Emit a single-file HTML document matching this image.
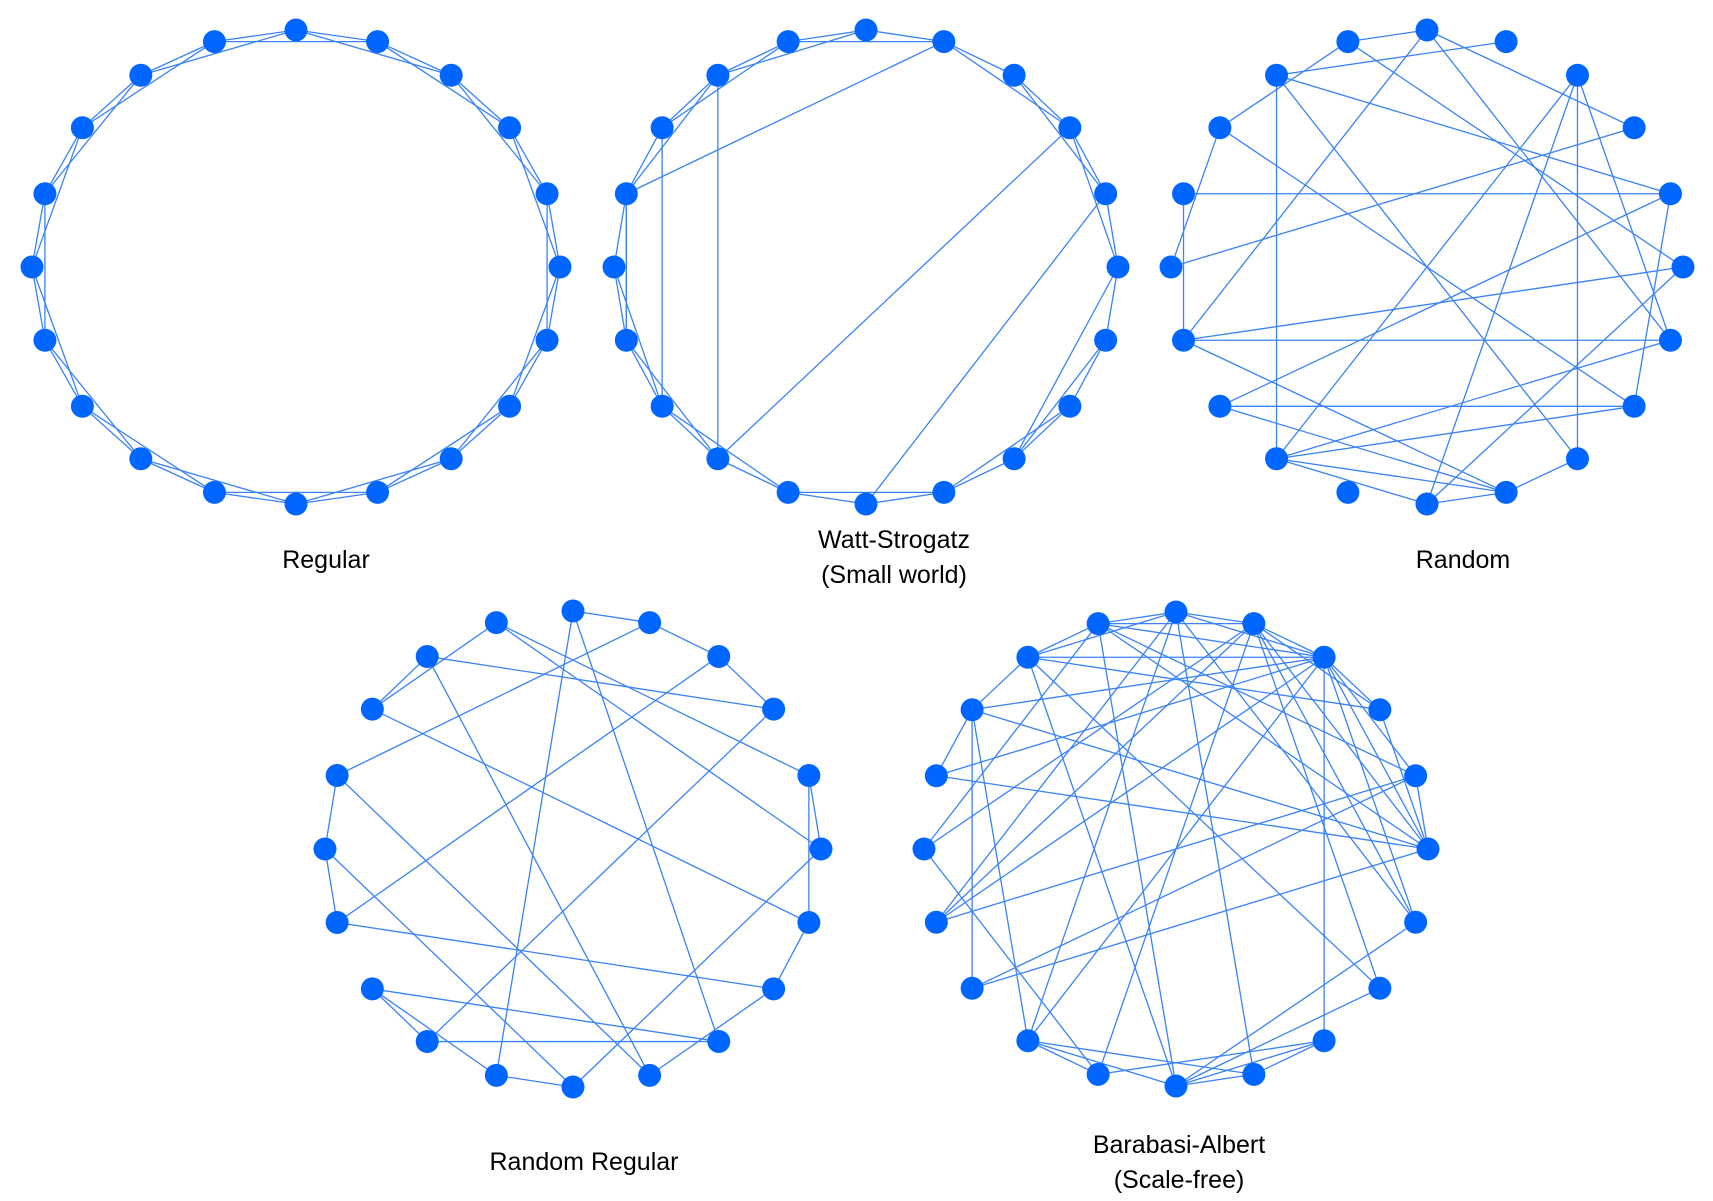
<!DOCTYPE html>
<html><head><meta charset="utf-8"><style>
html,body{margin:0;padding:0;background:#fff;}
svg{display:block;}
text{font-family:"Liberation Sans",Arial,sans-serif;font-size:25px;fill:#000;text-anchor:middle;}
</style></head><body>
<svg id="chart" width="1713" height="1201" viewBox="0 0 1713 1201"></svg>
<script>
const graphNames = ["regular","watts-strogatz","random","random-regular","barabasi-albert"];
const graphLabels = [["Regular"],["Watt-Strogatz","(Small world)"],["Random"],["Random Regular"],["Barabasi-Albert","(Scale-free)"]];
const nodeCount = 20;
const regularEdges = [];
for (let i=0;i<20;i++){regularEdges.push([i,(i+1)%20]);regularEdges.push([i,(i+2)%20]);}
const wsEdges = regularEdges.filter(e=>!(["0-2","5-7","10-12","15-17","4-6","8-10"].includes(e[0]+"-"+e[1]))).concat([[18,12],[17,13],[16,14],[1,16],[3,12],[4,10],[5,8]]);
const randomEdges = [[19,0],[18,1],[19,17],[0,3],[0,14],[0,6],[18,8],[18,4],[18,12],[17,7],[19,5],[16,4],[16,14],[17,15],[15,3],[14,5],[14,6],[14,9],[13,4],[13,7],[13,9],[12,2],[12,6],[12,7],[12,9],[12,10],[10,2],[10,5],[10,9],[9,8],[7,4],[2,6],[2,8]];
const rrEdges = [[0,1],[0,11],[0,8],[1,2],[1,16],[2,3],[2,14],[3,18],[3,12],[19,17],[19,4],[19,5],[18,17],[18,9],[17,6],[4,5],[4,6],[5,10],[6,7],[7,14],[7,9],[16,15],[16,9],[15,14],[15,10],[13,8],[13,12],[13,11],[12,8],[11,10]];
const baEdges = [[19,0],[19,1],[19,18],[19,2],[19,5],[19,10],[19,15],[19,4],[0,18],[0,1],[0,2],[0,6],[0,9],[0,14],[0,12],[1,2],[1,15],[1,11],[1,6],[1,5],[1,7],[1,3],[1,14],[2,3],[2,4],[2,5],[2,6],[2,18],[2,17],[2,16],[2,14],[2,8],[2,12],[18,10],[18,3],[18,7],[18,17],[17,13],[17,16],[17,12],[17,5],[16,5],[15,11],[14,4],[13,5],[13,4],[12,11],[12,10],[12,9],[11,8],[10,9],[10,8],[10,7],[10,6],[9,8],[3,5],[4,5]];
const graphEdges = [regularEdges, wsEdges, randomEdges, rrEdges, baEdges];
const centers = [[296,267],[866,267],[1427,267],[573,849],[1176,849]];
const radii = [[264,237],[252,237],[256,237],[248,238],[252,237]];
const labelPos = [[326,568],[894,548],[1463,568],[584,1170],[1179,1153]];

const NS="http://www.w3.org/2000/svg";
const svg=document.getElementById('chart');
function pos(g,k){const a=(90-18*k)*Math.PI/180;return [centers[g][0]+radii[g][0]*Math.cos(a),centers[g][1]-radii[g][1]*Math.sin(a)];}
graphNames.forEach((name,g)=>{
  const grp=document.createElementNS(NS,'g');
  
  
  svg.appendChild(grp);
  graphEdges[g].forEach(e=>{
    const p=pos(g,e[0]),q=pos(g,e[1]);
    const l=document.createElementNS(NS,'line');
    l.setAttribute('x1',p[0]);l.setAttribute('y1',p[1]);l.setAttribute('x2',q[0]);l.setAttribute('y2',q[1]);
    l.setAttribute('stroke','#3a82f6');l.setAttribute('stroke-width','1.3');
    
    
    grp.appendChild(l);
  });
  for(let k=0;k<nodeCount;k++){
    const p=pos(g,k);
    const c=document.createElementNS(NS,'circle');
    c.setAttribute('cx',p[0]);c.setAttribute('cy',p[1]);c.setAttribute('r','11.5');c.setAttribute('fill','#0066ff');
    
    
    grp.appendChild(c);
  }
  graphLabels[g].forEach((txt,i)=>{
    const t=document.createElementNS(NS,'text');
    t.setAttribute('x',labelPos[g][0]);t.setAttribute('y',labelPos[g][1]+i*35);
    t.textContent=txt;
    
    
    grp.appendChild(t);
  });
});
</script>
</body></html>
